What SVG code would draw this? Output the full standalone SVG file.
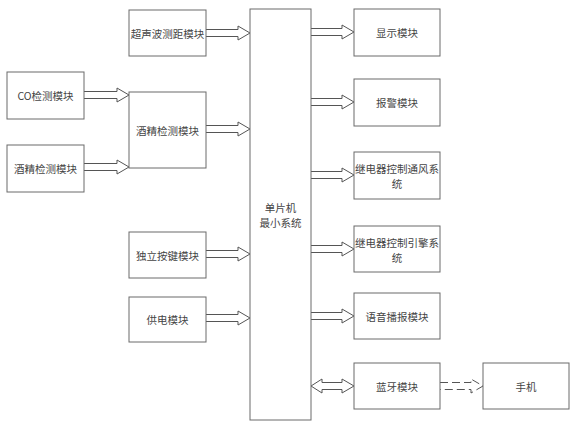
<svg xmlns="http://www.w3.org/2000/svg" width="585" height="431" viewBox="0 0 585 431">
<style>
.b{fill:#fff;stroke:#6a6a6a;stroke-width:1}
.t{font-family:"Noto Sans CJK SC","Liberation Serif",serif;font-size:10.5px;fill:#444;text-anchor:middle;dominant-baseline:central}
.a{fill:#fff;stroke:#555;stroke-width:1;stroke-linejoin:miter}
.d{fill:none;stroke:#555;stroke-width:1;stroke-dasharray:8,4}
</style>
<rect width="585" height="431" fill="#fff"/>
<g id="connectors">
<path class="a" d="M206,29.5H238V26L250,33L238,40V36.5H206"/>
<path class="a" d="M84,91.5H117V88L129,95L117,102V98.5H84"/>
<path class="a" d="M84,163.5H117V160L129,167L117,174V170.5H84"/>
<path class="a" d="M206,125.5H238V122L250,129L238,136V132.5H206"/>
<path class="a" d="M206,250.5H238V247L250,254L238,261V257.5H206"/>
<path class="a" d="M206,314.5H238V311L250,318L238,325V321.5H206"/>
<path class="a" d="M311,28.5H342V25L354,32L342,39V35.5H311"/>
<path class="a" d="M311,98.5H342V95L354,102L342,109V105.5H311"/>
<path class="a" d="M311,171.5H342V168L354,175L342,182V178.5H311"/>
<path class="a" d="M311,245.5H342V242L354,249L342,256V252.5H311"/>
<path class="a" d="M311,312.5H342V309L354,316L342,323V319.5H311"/>
<path class="a" d="M311,386L322,379V382.5H342V379L354,386L342,393V389.5H322V393Z"/>
<path class="d" d="M440,382.5H471V379L483,386L471,393V389.5H440"/>
</g>
<g id="n-ultrasonic"><rect class="b" x="129" y="10" width="77" height="46"/><text class="t" x="167.5" y="33">超声波测距模块</text></g>
<g id="n-co"><rect class="b" x="7" y="72" width="77" height="47"/><text class="t" x="45.5" y="95.5">CO检测模块</text></g>
<g id="n-alcohol-mid"><rect class="b" x="129" y="92" width="77" height="76"/><text class="t" x="167.5" y="130">酒精检测模块</text></g>
<g id="n-alcohol-left"><rect class="b" x="7" y="145" width="77" height="47"/><text class="t" x="45.5" y="168.5">酒精检测模块</text></g>
<g id="n-key"><rect class="b" x="129" y="232" width="77" height="46"/><text class="t" x="167.5" y="255">独立按键模块</text></g>
<g id="n-power"><rect class="b" x="129" y="297" width="77" height="45"/><text class="t" x="167.5" y="319.5">供电模块</text></g>
<g id="n-mcu"><rect class="b" x="250" y="9" width="61" height="411"/><text class="t" x="280.5" y="207">单片机</text><text class="t" x="280.5" y="222.5">最小系统</text></g>
<g id="n-display"><rect class="b" x="354" y="9" width="86" height="47"/><text class="t" x="397" y="32.5">显示模块</text></g>
<g id="n-alarm"><rect class="b" x="354" y="79" width="86" height="47"/><text class="t" x="397" y="102.5">报警模块</text></g>
<g id="n-vent"><rect class="b" x="354" y="152" width="86" height="47"/><text class="t" x="397" y="168">继电器控制通风系</text><text class="t" x="397" y="183">统</text></g>
<g id="n-engine"><rect class="b" x="354" y="226" width="86" height="46"/><text class="t" x="397" y="242">继电器控制引擎系</text><text class="t" x="397" y="257">统</text></g>
<g id="n-voice"><rect class="b" x="354" y="293" width="86" height="46"/><text class="t" x="397" y="316">语音播报模块</text></g>
<g id="n-bt"><rect class="b" x="354" y="363" width="86" height="46"/><text class="t" x="397" y="386">蓝牙模块</text></g>
<g id="n-phone"><rect class="b" x="483" y="363" width="86" height="46"/><text class="t" x="526" y="386">手机</text></g>
</svg>
